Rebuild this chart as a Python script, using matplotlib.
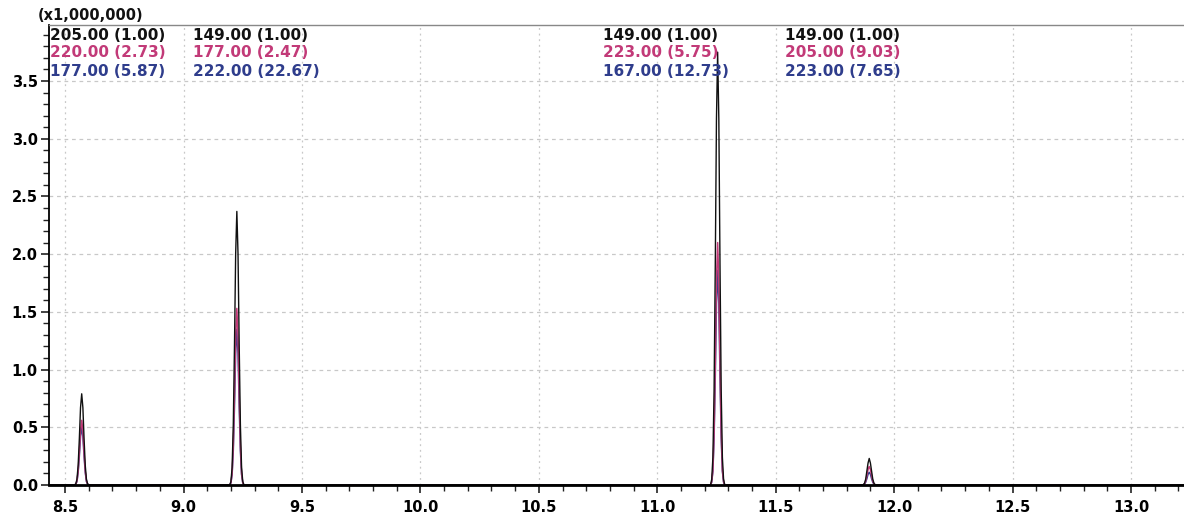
import matplotlib
matplotlib.use("Agg")
import matplotlib.pyplot as plt
from matplotlib.ticker import MultipleLocator, FormatStrFormatter

# ============== Données (temps de rétention + intensités x1e6) ===================
rt_peak1 = [8.540, 8.545, 8.550, 8.555, 8.560, 8.565, 8.570, 8.575, 8.580, 8.585, 8.590, 8.595, 8.600]
rt_peak2 = [9.195, 9.200, 9.205, 9.210, 9.215, 9.220, 9.225, 9.230, 9.235, 9.240, 9.245, 9.250, 9.255]
rt_peak3 = [11.225, 11.230, 11.235, 11.240, 11.245, 11.250, 11.255, 11.260, 11.265, 11.270, 11.275, 11.280, 11.285]
rt_peak4 = [11.865, 11.870, 11.875, 11.880, 11.885, 11.890, 11.895, 11.900, 11.905, 11.910, 11.915, 11.920, 11.925]
rt_start = 8.43
rt_end = 13.25

black_p1 = [0, 0.01, 0.05, 0.17, 0.40, 0.67, 0.79, 0.67, 0.40, 0.17, 0.05, 0.01, 0]
pink_p1 = [0, 0.008, 0.035, 0.12, 0.28, 0.47, 0.56, 0.47, 0.28, 0.12, 0.035, 0.008, 0]
blue_p1 = [0, 0.007, 0.03, 0.11, 0.25, 0.42, 0.50, 0.42, 0.25, 0.11, 0.03, 0.007, 0]

black_p2 = [0, 0.03, 0.15, 0.52, 1.20, 2.00, 2.37, 2.00, 1.20, 0.52, 0.15, 0.03, 0]
pink_p2 = [0, 0.02, 0.10, 0.34, 0.78, 1.29, 1.53, 1.29, 0.78, 0.34, 0.10, 0.02, 0]
blue_p2 = [0, 0.018, 0.09, 0.30, 0.68, 1.14, 1.35, 1.14, 0.68, 0.30, 0.09, 0.018, 0]

black_p3 = [0, 0.05, 0.24, 0.82, 1.90, 3.17, 3.75, 3.17, 1.90, 0.82, 0.24, 0.05, 0]
pink_p3 = [0, 0.03, 0.13, 0.46, 1.06, 1.77, 2.10, 1.77, 1.06, 0.46, 0.13, 0.03, 0]
blue_p3 = [0, 0.025, 0.12, 0.41, 0.94, 1.57, 1.86, 1.57, 0.94, 0.41, 0.12, 0.025, 0]

black_p4 = [0, 0.003, 0.015, 0.05, 0.12, 0.19, 0.23, 0.19, 0.12, 0.05, 0.015, 0.003, 0]
pink_p4 = [0, 0.002, 0.01, 0.035, 0.08, 0.135, 0.16, 0.135, 0.08, 0.035, 0.01, 0.002, 0]
blue_p4 = [0, 0.001, 0.007, 0.024, 0.055, 0.093, 0.11, 0.093, 0.055, 0.024, 0.007, 0.001, 0]

# Étiquettes m/z (ratio) par pic : ligne noire / rose / bleue
label_x = [8.435, 9.040, 10.771, 11.539]
labels_black = ["205.00 (1.00)", "149.00 (1.00)", "149.00 (1.00)", "149.00 (1.00)"]
labels_pink = ["220.00 (2.73)", "177.00 (2.47)", "223.00 (5.75)", "205.00 (9.03)"]
labels_blue = ["177.00 (5.87)", "222.00 (22.67)", "167.00 (12.73)", "223.00 (7.65)"]

# ============== Assemblage des traces ===================
rt = [rt_start] + rt_peak1 + rt_peak2 + rt_peak3 + rt_peak4 + [rt_end]
black = [0] + black_p1 + black_p2 + black_p3 + black_p4 + [0]
pink = [0] + pink_p1 + pink_p2 + pink_p3 + pink_p4 + [0]
blue = [0] + blue_p1 + blue_p2 + blue_p3 + blue_p4 + [0]

c_black = "#111111"
c_pink = "#c23a78"
c_blue = "#2f3d8c"

# ============== Figure ===================
plt.rcParams["font.family"] = ["DejaVu Sans"]
fig = plt.figure(figsize=(11.84, 5.22), dpi=100)
ax = fig.add_axes([0.0414, 0.0709, 0.9586, 0.8812])

# bleu puis rose puis noir (noir au-dessus, contour des pics + ligne de base)
ax.plot(rt, blue, color=c_blue, lw=1.1, zorder=3)
ax.plot(rt, pink, color=c_pink, lw=1.1, zorder=4)
ax.plot(rt, black, color=c_black, lw=1.0, zorder=5)

ax.set_xlim(8.432, 13.224)
ax.set_ylim(0, 3.985)

ax.xaxis.set_major_locator(MultipleLocator(0.5))
ax.xaxis.set_minor_locator(MultipleLocator(0.1))
ax.yaxis.set_major_locator(MultipleLocator(0.5))
ax.yaxis.set_minor_locator(MultipleLocator(0.1))
ax.xaxis.set_major_formatter(FormatStrFormatter("%.1f"))
ax.yaxis.set_major_formatter(FormatStrFormatter("%.1f"))

ax.tick_params(axis="both", which="major", direction="out", length=6, width=1.2,
               labelsize=10.5, color="#222222")
ax.tick_params(axis="both", which="minor", direction="out", length=4, width=1.0,
               color="#222222")
ax.tick_params(axis="x", pad=5)
ax.tick_params(axis="y", pad=2)
for lab in ax.get_xticklabels() + ax.get_yticklabels():
    lab.set_fontweight("bold")

ax.grid(axis="x", which="major", linestyle=(0, (1.5, 3)), color="#c8c8c8", lw=0.9)
ax.grid(axis="y", which="major", linestyle=(0, (3, 3)), color="#c8c8c8", lw=0.9)
ax.set_axisbelow(True)

ax.spines["left"].set_linewidth(1.3)
ax.spines["bottom"].set_linewidth(2.0)
ax.spines["bottom"].set_zorder(6)
ax.spines["top"].set_color("#888888")
ax.spines["top"].set_linewidth(1.0)
ax.spines["right"].set_visible(False)

# ============== Annotations ===================
for i in range(len(label_x)):
    ax.text(label_x[i], 3.898, labels_black[i], color=c_black, fontsize=11,
            fontweight="bold", va="center", ha="left", zorder=6)
    ax.text(label_x[i], 3.743, labels_pink[i], color=c_pink, fontsize=11,
            fontweight="bold", va="center", ha="left", zorder=6)
    ax.text(label_x[i], 3.578, labels_blue[i], color=c_blue, fontsize=11,
            fontweight="bold", va="center", ha="left", zorder=6)

fig.text(0.032, 0.971, "(x1,000,000)", fontsize=10.5, fontweight="bold",
         va="center", ha="left", color=c_black)

fig.savefig("out.png", dpi=100)
